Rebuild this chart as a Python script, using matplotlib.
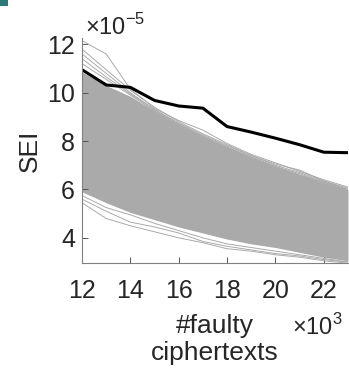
import matplotlib
matplotlib.use('Agg')
import matplotlib.pyplot as plt
from matplotlib.patches import Rectangle
import numpy as np

plt.rcParams['font.family'] = ['Liberation Sans', 'DejaVu Sans']
plt.rcParams['mathtext.fontset'] = 'custom'
plt.rcParams['mathtext.rm'] = 'Liberation Sans'

# number of faulty ciphertexts (x 10^3)
n_faulty = [12, 13, 14, 15, 16, 17, 18, 19, 20, 21, 22, 23]
# SEI of the correct key (x 10^-5)
sei_correct = [10.95, 10.32, 10.22, 9.68, 9.45, 9.36, 8.6, 8.37, 8.12, 7.85, 7.54, 7.52]
# dense band of wrong-key SEI curves: upper / lower edge
band_upper = [10.85, 10.3, 9.85, 9.25, 8.7, 8.2, 7.75, 7.35, 6.95, 6.62, 6.3, 5.98]
band_lower = [5.9, 5.45, 5.05, 4.75, 4.45, 4.2, 3.95, 3.75, 3.6, 3.4, 3.2, 3.05]
# a few wrong-key curves that stand out of the band
strays_high = [
    [12.15, 11.6, 10.15, 9.35, 8.85, 8.45, 7.9, 7.45, 7.1, 6.75, 6.4, 6.1],
    [11.8, 10.95, 10.1, 9.4, 8.8, 8.3, 7.85, 7.4, 7.05, 6.8, 6.35, 6.05],
    [11.6, 10.8, 10.0, 9.3, 8.75, 8.25, 7.8, 7.4, 7.0, 6.7, 6.35, 6.0],
    [11.4, 10.65, 9.95, 9.3, 8.7, 8.2, 7.75, 7.35, 6.95, 6.65, 6.3, 6.0],
    [11.2, 10.55, 9.9, 9.25, 8.7, 8.2, 7.75, 7.3, 6.95, 6.6, 6.3, 5.95],
]
strays_low = [
    [5.45, 4.8, 4.5, 4.25, 4.0, 3.8, 3.55, 3.45, 3.3, 3.2, 3.05, 2.95],
    [5.6, 5.1, 4.65, 4.45, 4.2, 3.85, 3.65, 3.5, 3.35, 3.25, 3.1, 3.0],
    [5.75, 5.25, 4.95, 4.6, 4.3, 4.0, 3.75, 3.6, 3.45, 3.3, 3.15, 3.0],
]

gray = '#aaaaaa'
txt = '#262626'
fig = plt.figure(figsize=(3.49, 3.75), dpi=100)
ax = fig.add_axes([0.235, 0.298, 0.762, 0.6])

ax.fill_between(n_faulty, band_lower, band_upper, color=gray, lw=0)
for s in strays_high + strays_low:
    ax.plot(n_faulty, s, color=gray, lw=0.7)
ax.plot(n_faulty, sei_correct, color='black', lw=2.2)

ax.set_xlim(12, 23)
ax.set_ylim(2.95, 12.25)
ax.set_xticks([12, 14, 16, 18, 20, 22])
ax.set_yticks([4, 6, 8, 10, 12])
ax.tick_params(direction='in', length=4, width=0.7, color='#555555',
               labelsize=18, labelcolor=txt)
ax.tick_params(axis='x', pad=11)
ax.tick_params(axis='y', pad=5)
for side in ['top', 'right']:
    ax.spines[side].set_visible(False)
for side in ['left', 'bottom']:
    ax.spines[side].set_color('#808080')
    ax.spines[side].set_linewidth(0.8)

ax.set_ylabel('SEI', fontsize=19, color=txt, labelpad=4)
ax.set_xlabel('#faulty\nciphertexts', fontsize=19, color=txt,
              linespacing=1.2, labelpad=8)
fig.text(0.244, 0.907, r'$\times$10$^{-5}$', fontsize=17, color=txt,
         va='baseline')
fig.text(0.837, 0.107, r'$\times$10$^{3}$', fontsize=17, color=txt,
         va='baseline')

fig.add_artist(Rectangle((0, 0.985), 0.022, 0.015, transform=fig.transFigure,
                         color='#2b7a78', lw=0))

fig.savefig('out.png', dpi=100)
